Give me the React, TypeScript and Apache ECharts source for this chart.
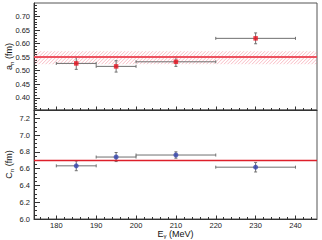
import React, { useEffect, useRef } from "react";
import * as echarts from "echarts";

// ---------- data ----------
const xMin = 174.4;
const xMax = 245.4;
const xMajor = [180, 190, 200, 210, 220, 230, 240];
const xMinor = [176, 178, 182, 184, 186, 188, 192, 194, 196, 198, 202, 204, 206, 208, 212, 214, 216, 218, 222, 224, 226, 228, 232, 234, 236, 238, 242, 244];

const aMin = 0.355;
const aMax = 0.75;
const aMajor = [0.4, 0.45, 0.5, 0.55, 0.6, 0.65, 0.7];
const aMinor = [0.36, 0.37, 0.38, 0.39, 0.41, 0.42, 0.43, 0.44, 0.46, 0.47, 0.48, 0.49, 0.51, 0.52, 0.53, 0.54, 0.56, 0.57, 0.58, 0.59, 0.61, 0.62, 0.63, 0.64, 0.66, 0.67, 0.68, 0.69, 0.71, 0.72, 0.73, 0.74];

const cMin = 6.0;
const cMax = 7.3;
const cMajor = [6.0, 6.2, 6.4, 6.6, 6.8, 7.0, 7.2];
const cMinor = [6.05, 6.1, 6.15, 6.25, 6.3, 6.35, 6.45, 6.5, 6.55, 6.65, 6.7, 6.75, 6.85, 6.9, 6.95, 7.05, 7.1, 7.15, 7.25];

// energy bins: centre, low edge, high edge
const eCenter = [185, 195, 210, 230];
const eLow = [180, 190, 200, 220];
const eHigh = [190, 200, 220, 240];

// a_n values and errors
const aValues = [0.527, 0.516, 0.533, 0.6195];
const aErrors = [0.022, 0.021, 0.017, 0.02];
const aFit = 0.548;
const aBandLow = 0.524;
const aBandHigh = 0.572;

// C_n values and errors
const cValues = [6.634, 6.739, 6.763, 6.618];
const cErrors = [0.058, 0.054, 0.038, 0.057];
const cFit = 6.7;

// ---------- styling ----------
const FONT = "Liberation Sans, Arial, Helvetica, sans-serif";
const AXIS = "#333";
const ERR = "#707070";
const HATCH = "rgba(242,120,135,0.5)";
const HATCH_STEP = 3.5;

const errRows = (vals: number[], errs: number[]) =>
  vals.map((v, i) => [eCenter[i], v, eLow[i], eHigh[i], v - errs[i], v + errs[i]]);

const renderErr = (params: any, api: any) => {
  const x = api.value(0);
  const y = api.value(1);
  const l = api.coord([api.value(2), y]);
  const r = api.coord([api.value(3), y]);
  const t = api.coord([x, api.value(5)]);
  const b = api.coord([x, api.value(4)]);
  const st = { stroke: ERR, lineWidth: 1 };
  return {
    type: "group",
    children: [
      { type: "line", shape: { x1: l[0], y1: l[1], x2: r[0], y2: r[1] }, style: st },
      { type: "line", shape: { x1: l[0], y1: l[1] - 1.5, x2: l[0], y2: l[1] + 1.5 }, style: st },
      { type: "line", shape: { x1: r[0], y1: r[1] - 1.5, x2: r[0], y2: r[1] + 1.5 }, style: st },
      { type: "line", shape: { x1: t[0], y1: t[1], x2: b[0], y2: b[1] }, style: st },
      { type: "line", shape: { x1: t[0] - 1.5, y1: t[1], x2: t[0] + 1.5, y2: t[1] }, style: st },
      { type: "line", shape: { x1: b[0] - 1.5, y1: b[1], x2: b[0] + 1.5, y2: b[1] }, style: st },
    ],
  };
};

const renderBand = (params: any, api: any) => {
  const pTop = api.coord([api.value(0), api.value(3)]);
  const pBot = api.coord([api.value(2), api.value(1)]);
  const x0 = pTop[0];
  const x1 = pBot[0];
  const yT = pTop[1];
  const yB = pBot[1];
  const h = yB - yT;
  const children: any[] = [];
  for (let c = x0 - h; c < x1; c += HATCH_STEP) {
    const t0 = Math.max(0, x0 - c);
    const t1 = Math.min(h, x1 - c);
    if (t1 <= t0) continue;
    children.push({
      type: "line",
      shape: { x1: c + t0, y1: yB - t0, x2: c + t1, y2: yB - t1 },
      style: { stroke: HATCH, lineWidth: 1 },
    });
  }
  return { type: "group", children };
};

const titleRich = {
  m: { fontSize: 9, lineHeight: 12, fontFamily: FONT, color: "#111" },
  s: { fontSize: 6, lineHeight: 5, verticalAlign: "bottom", fontFamily: FONT, color: "#111" },
};
const xTitleRich = {
  m: { fontSize: 9, lineHeight: 9, fontFamily: FONT, color: "#111" },
  s: { fontSize: 6, lineHeight: 4, verticalAlign: "bottom", fontFamily: FONT, color: "#111" },
};

export default function App() {
  const ref = useRef<HTMLDivElement>(null);

  useEffect(() => {
    if (!ref.current) return;
    const chart = echarts.init(ref.current, undefined, { renderer: "svg" });

    const xBase = (gridIndex: number, labels: boolean) => ({
      type: "value",
      gridIndex,
      min: xMin,
      max: xMax,
      position: "bottom",
      axisLine: { show: true, lineStyle: { color: AXIS, width: 1 } },
      axisTick: { show: true, inside: true, length: 3.5, customValues: xMajor, lineStyle: { color: AXIS } },
      axisLabel: labels
        ? { show: true, customValues: xMajor, fontSize: 7.5, lineHeight: 8, fontFamily: FONT, color: "#222", margin: 2 }
        : { show: false },
      splitLine: { show: false },
    });
    const xMinorAxis = (gridIndex: number) => ({
      type: "value",
      gridIndex,
      min: xMin,
      max: xMax,
      position: "bottom",
      axisLine: { show: false },
      axisTick: { show: true, inside: true, length: 2, customValues: xMinor, lineStyle: { color: AXIS } },
      axisLabel: { show: false },
      splitLine: { show: false },
    });
    const yBase = (gridIndex: number, min: number, max: number, major: number[], dec: number) => ({
      type: "value",
      gridIndex,
      min,
      max,
      position: "left",
      axisLine: { show: true, lineStyle: { color: AXIS, width: 1 } },
      axisTick: { show: true, inside: true, length: 6, customValues: major, lineStyle: { color: AXIS } },
      axisLabel: {
        show: true,
        customValues: major,
        fontSize: 7.5,
        fontFamily: FONT,
        color: "#222",
        margin: 4,
        formatter: (v: number) => v.toFixed(dec),
      },
      splitLine: { show: false },
    });
    const yMinorAxis = (gridIndex: number, min: number, max: number, minor: number[]) => ({
      type: "value",
      gridIndex,
      min,
      max,
      position: "left",
      axisLine: { show: false },
      axisTick: { show: true, inside: true, length: 3, customValues: minor, lineStyle: { color: AXIS } },
      axisLabel: { show: false },
      splitLine: { show: false },
    });

    const xBottom: any = xBase(1, true);
    xBottom.name = "{m|E}{s|γ}{m| (MeV)}";
    xBottom.nameLocation = "middle";
    xBottom.nameGap = 10.5;
    xBottom.nameMoveOverlap = false;
    xBottom.nameTextStyle = { rich: xTitleRich };

    const yTop: any = yBase(0, aMin, aMax, aMajor, 2);
    yTop.name = "{m|a}{s|n}{m| (fm)}";
    yTop.nameLocation = "middle";
    yTop.nameGap = 19;
    yTop.nameMoveOverlap = false;
    yTop.nameTextStyle = { rich: titleRich };

    const yBot: any = yBase(1, cMin, cMax, cMajor, 1);
    yBot.name = "{m|C}{s|n}{m| (fm)}";
    yBot.nameLocation = "middle";
    yBot.nameGap = 19;
    yBot.nameMoveOverlap = false;
    yBot.nameTextStyle = { rich: titleRich };

    const gridCommon = {
      left: 34,
      right: 5,
      show: true,
      borderColor: "#555",
      borderWidth: 1,
      backgroundColor: "transparent",
      containLabel: false,
      outerBoundsMode: "none",
    };

    const option: any = {
      animation: false,
      backgroundColor: "#fff",
      grid: [
        { ...gridCommon, top: 3, height: 107 },
        { ...gridCommon, top: 110, height: 109 },
      ],
      xAxis: [xBase(0, false), xBottom, xMinorAxis(0), xMinorAxis(1)],
      yAxis: [yTop, yBot, yMinorAxis(0, aMin, aMax, aMinor), yMinorAxis(1, cMin, cMax, cMinor)],
      series: [
        {
          type: "custom",
          xAxisIndex: 0,
          yAxisIndex: 0,
          silent: true,
          clip: true,
          data: [[xMin, aBandLow, xMax, aBandHigh]],
          encode: { x: [0, 2], y: [1, 3] },
          renderItem: renderBand,
          markLine: {
            silent: true,
            symbol: "none",
            label: { show: false },
            lineStyle: { color: "#ec4a58", width: 2, type: "solid", opacity: 0.95 },
            data: [{ yAxis: aFit }],
          },
        },
        {
          type: "custom",
          xAxisIndex: 0,
          yAxisIndex: 0,
          silent: true,
          data: errRows(aValues, aErrors),
          encode: { x: [0, 2, 3], y: [1, 4, 5] },
          renderItem: renderErr,
        },
        {
          type: "scatter",
          xAxisIndex: 0,
          yAxisIndex: 0,
          symbol: "rect",
          symbolSize: 4.5,
          itemStyle: { color: "#e8101e" },
          data: eCenter.map((x, i) => [x, aValues[i]]),
        },
        {
          type: "custom",
          xAxisIndex: 1,
          yAxisIndex: 1,
          silent: true,
          data: errRows(cValues, cErrors),
          encode: { x: [0, 2, 3], y: [1, 4, 5] },
          renderItem: renderErr,
          markLine: {
            silent: true,
            symbol: "none",
            label: { show: false },
            lineStyle: { color: "#dd1f2a", width: 1.3, type: "solid" },
            data: [{ yAxis: cFit }],
          },
        },
        {
          type: "scatter",
          xAxisIndex: 1,
          yAxisIndex: 1,
          symbol: "circle",
          symbolSize: 5,
          itemStyle: { color: "#3445b0" },
          data: eCenter.map((x, i) => [x, cValues[i]]),
        },
      ],
    };

    chart.setOption(option);
    return () => chart.dispose();
  }, []);

  return (
    <div
      ref={ref}
      style={{ position: "fixed", left: 0, top: 0, width: 322, height: 240, background: "#fff" }}
    />
  );
}
